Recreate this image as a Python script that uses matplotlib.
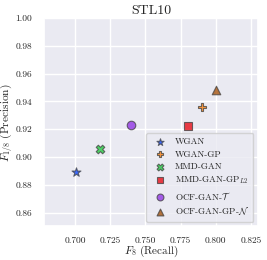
import matplotlib
matplotlib.use("Agg")
import matplotlib.pyplot as plt
import seaborn as sns

models = ["WGAN", "WGAN-GP", "MMD-GAN", r"MMD-GAN-GP$_{L2}$", r"OCF-GAN-$\mathcal{T}$", r"OCF-GAN-GP-$\mathcal{N}$"]
recall = [0.701, 0.790, 0.718, 0.780, 0.740, 0.800]
precision = [0.889, 0.936, 0.906, 0.922, 0.923, 0.948]
markers = ["*", "P", "X", "s", "o", "^"]
colors = sns.color_palette("bright", 6)

sns.set_theme(style="darkgrid")
plt.rcParams["font.family"] = ["serif"]
plt.rcParams["font.serif"] = ["cmr10", "DejaVu Serif"]
plt.rcParams["mathtext.fontset"] = "cm"
plt.rcParams["axes.formatter.use_mathtext"] = True

fig = plt.figure(figsize=(2.67, 2.60), dpi=100)
ax = fig.add_axes([0.165, 0.129, 0.801, 0.802])
for m, r, p, mk, c in zip(models, recall, precision, markers, colors):
    s = 45 if mk == "*" else 38
    ax.scatter([r], [p], marker=mk, s=s, color=c, alpha=0.75, edgecolor="0.25", linewidth=0.8, label=m, zorder=3)

ax.set_xlim(0.678, 0.830)
ax.set_ylim(0.85, 1.00)
ax.set_xticks([0.700, 0.725, 0.750, 0.775, 0.800, 0.825])
ax.set_xticklabels(["0.700", "0.725", "0.750", "0.775", "0.800", "0.825"])
ax.set_yticks([0.86, 0.88, 0.90, 0.92, 0.94, 0.96, 0.98, 1.00])
ax.set_yticklabels(["0.86", "0.88", "0.90", "0.92", "0.94", "0.96", "0.98", "1.00"])
ax.tick_params(axis="x", labelsize=6.8, pad=1.5)
ax.tick_params(axis="y", labelsize=6.8, pad=2.5)
ax.set_xlabel(r"$F_8$ (Recall)", fontsize=8, labelpad=-1)
ax.set_ylabel(r"$F_{1/8}$ (Precision)", fontsize=8.2, labelpad=0)
ax.set_title("STL10", fontsize=10, pad=3)
ax.legend(loc="lower right", fontsize=6.6, frameon=True, handletextpad=0.6, borderpad=0.5,
          labelspacing=0.42, markerscale=0.8)
fig.savefig("out.png", dpi=100)
